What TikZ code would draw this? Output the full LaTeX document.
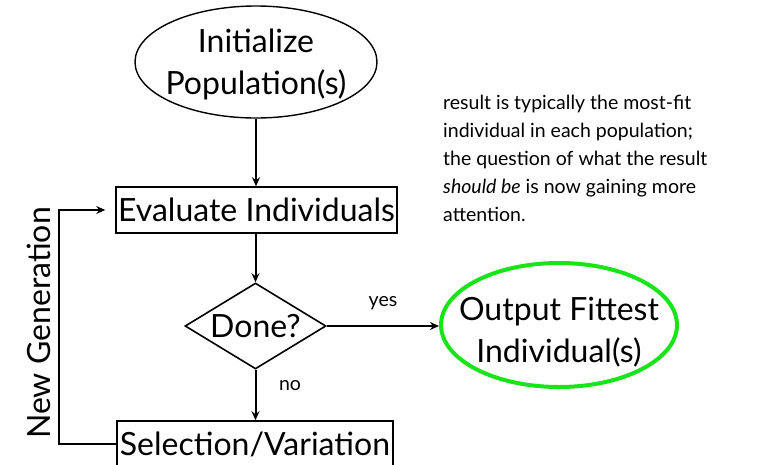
\documentclass[tikz,border=0pt]{standalone}
\usepackage{fontspec}
\setmainfont{Lato}
\usetikzlibrary{shapes.geometric,arrows.meta}
\definecolor{brightgreen}{RGB}{25,228,25}
\begin{document}
\begin{tikzpicture}[x=1pt,y=-1pt,
  big/.style={font=\fontsize{32}{42}\selectfont},
  small/.style={font=\fontsize{19.5}{28}\selectfont},
  boxnode/.style={draw,line width=1.6pt,inner sep=0pt,minimum height=46pt,big},
  arr/.style={line width=2pt,-{Stealth[length=9pt,width=8pt]}},
  oval/.style={draw,ellipse,inner sep=0pt}]
\useasboundingbox (0,0) rectangle (761,464);
\node[oval,line width=1.4pt,minimum width=242pt,minimum height=112pt] (init) at (256,62) {};
\node[align=center,big] (initT) at (256,64) {Initialize\\Population(s)};
\node[boxnode,minimum width=281pt] (eval) at (256.5,210) {Evaluate Individuals};
\node[draw,diamond,line width=1.6pt,inner sep=0pt,aspect=1.64,minimum width=141pt,minimum height=86pt,big] (done) at (255.5,326) {Done?};
\node[oval,draw=brightgreen,line width=4pt,minimum width=236pt,minimum height=124pt] (out) at (559,325) {};
\node[align=center,big] (outT) at (559,332) {Output Fittest\\Individual(s)};
\node[boxnode,minimum width=276pt] (sel) at (255,444) {Selection/Variation};
\node[small,anchor=north west,align=left,inner sep=0pt] (note) at (443,95) {result is typically the most-fit\\individual in each population;\\the question of what the result\\\textit{should be} is now gaining more\\attention.};
\node[small] (yes) at (383,303) {yes};
\node[small] (no) at (290,386) {no};
\node[big,rotate=90] (newgen) at (39,323) {New Generation};
\draw[arr] (init.south) -- (init.south |- eval.north);
\draw[arr] (eval.south -| done.north) -- (done.north);
\draw[arr] (done.east) -- (done.east -| out.west);
\draw[arr] (done.south) -- (sel.north -| done.south);
\draw[arr,shorten >=10pt] (sel.west) -- ++(-57,0) |- (eval.west);
\end{tikzpicture}
\end{document}
